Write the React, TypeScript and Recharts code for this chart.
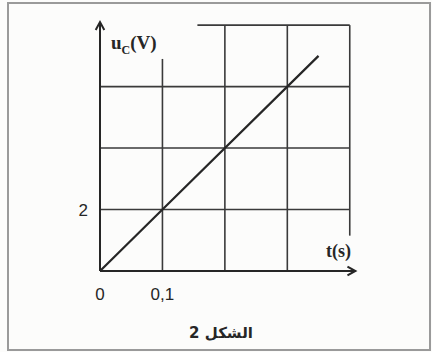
import React from "react";
import { Label, Line, LineChart, ReferenceLine, XAxis, YAxis } from "recharts";

// u_C(t): straight line through the origin, 2 V per 0.1 s
const times = [0, 0.1, 0.35];
const volts = [0, 2, 7];

const xTicks = [0, 0.1];
const yTicks = [2];

// full grid lines
const gridTimes = [0.2, 0.3];
const gridVolts = [2, 4, 6];

const data = times.map((t, i) => ({ t, u: volts[i] }));

const INK = "#262626";
const GRID = "#3a3a3a";

// axis line with an open arrow head at its far end (x2, y2)
function ArrowAxis(props: any) {
  const { x1, y1, x2, y2 } = props;
  const ang = Math.atan2(y2 - y1, x2 - x1);
  const len = 9;
  const spread = 0.5;
  const ax = x2 - len * Math.cos(ang - spread);
  const ay = y2 - len * Math.sin(ang - spread);
  const bx = x2 - len * Math.cos(ang + spread);
  const by = y2 - len * Math.sin(ang + spread);
  return (
    <g>
      <line x1={x1} y1={y1} x2={x2} y2={y2} stroke={INK} strokeWidth={2} />
      <path
        d={`M${ax},${ay} L${x2},${y2} L${bx},${by}`}
        fill="none"
        stroke={INK}
        strokeWidth={2}
      />
    </g>
  );
}

function YTitle(props: any) {
  const vb = props.viewBox ?? { x: 0, y: 0, width: 0 };
  const x = vb.x + vb.width + 11;
  const y = vb.y + 30;
  return (
    <text
      x={x}
      y={y}
      fill={INK}
      fontFamily="'Liberation Serif', serif"
      fontWeight="bold"
      fontSize={19}
    >
      <tspan>u</tspan>
      <tspan dy={5} fontSize={12}>C</tspan>
      <tspan dy={-5}>(V)</tspan>
    </text>
  );
}

function XTitle(props: any) {
  const vb = props.viewBox ?? { x: 0, y: 0, width: 0 };
  return (
    <text
      x={vb.x + vb.width - 5}
      y={vb.y - 14}
      textAnchor="end"
      fill={INK}
      fontFamily="'Liberation Serif', serif"
      fontWeight="bold"
      fontSize={18}
    >
      t(s)
    </text>
  );
}

export default function App() {
  return (
    <div
      style={{
        position: "fixed",
        left: 0,
        top: 0,
        width: 432,
        height: 352,
        background: "#fcfcfb",
      }}
    >
      <div
        style={{
          position: "absolute",
          left: 7,
          top: 2,
          width: 420,
          height: 345,
          border: "2px solid #9a9a9a",
        }}
      />
      <LineChart
        width={432}
        height={352}
        data={data}
        margin={{ top: 19, right: 76, left: 0, bottom: 51 }}
        style={{ position: "absolute", left: 0, top: 0 }}
      >
        <XAxis
          dataKey="t"
          type="number"
          domain={[0, 0.41]}
          ticks={xTicks}
          allowDataOverflow
          height={30}
          tickLine={false}
          tickMargin={11}
          tickFormatter={(v: number) => String(v).replace(".", ",")}
          tick={{ fill: INK, fontSize: 17, fontFamily: "'Liberation Sans', sans-serif" }}
          axisLine={false}
        >
          <Label content={<XTitle />} />
        </XAxis>
        <YAxis
          type="number"
          domain={[0, 8.2]}
          ticks={yTicks}
          allowDataOverflow
          width={100}
          tickLine={false}
          tickMargin={6}
          tick={{ fill: INK, fontSize: 17, fontFamily: "'Liberation Sans', sans-serif" }}
          axisLine={false}
        >
          <Label content={<YTitle />} />
        </YAxis>
        {gridVolts.map((v) => (
          <ReferenceLine
            key={"h" + v}
            segment={[
              { x: 0, y: v },
              { x: 0.4, y: v },
            ]}
            stroke={GRID}
            strokeWidth={1.6}
          />
        ))}
        <ReferenceLine
          segment={[
            { x: 0.156, y: 8 },
            { x: 0.4, y: 8 },
          ]}
          stroke={GRID}
          strokeWidth={1.6}
        />
        <ReferenceLine
          segment={[
            { x: 0.1, y: 0 },
            { x: 0.1, y: 6.9 },
          ]}
          stroke={GRID}
          strokeWidth={1.6}
        />
        {gridTimes.map((t) => (
          <ReferenceLine
            key={"v" + t}
            segment={[
              { x: t, y: 0 },
              { x: t, y: 8 },
            ]}
            stroke={GRID}
            strokeWidth={1.6}
          />
        ))}
        <ReferenceLine
          segment={[
            { x: 0.4, y: 1.15 },
            { x: 0.4, y: 8 },
          ]}
          stroke={GRID}
          strokeWidth={1.6}
        />
        {/* axes with arrow heads */}
        <ReferenceLine
          segment={[
            { x: 0, y: 0 },
            { x: 0.409, y: 0 },
          ]}
          shape={<ArrowAxis />}
        />
        <ReferenceLine
          segment={[
            { x: 0, y: 0 },
            { x: 0, y: 8.1 },
          ]}
          shape={<ArrowAxis />}
        />
        <Line
          dataKey="u"
          type="linear"
          stroke={INK}
          strokeWidth={2.2}
          dot={false}
          isAnimationActive={false}
        />
      </LineChart>
      <div
        style={{
          position: "absolute",
          left: 0,
          width: 432,
          top: 324,
          textAlign: "center",
          fontFamily: "'DejaVu Sans', sans-serif",
          fontWeight: "bold",
          fontSize: 15,
          color: INK,
          paddingLeft: 10,
          boxSizing: "border-box",
        }}
      >
        الشكل 2
      </div>
    </div>
  );
}
